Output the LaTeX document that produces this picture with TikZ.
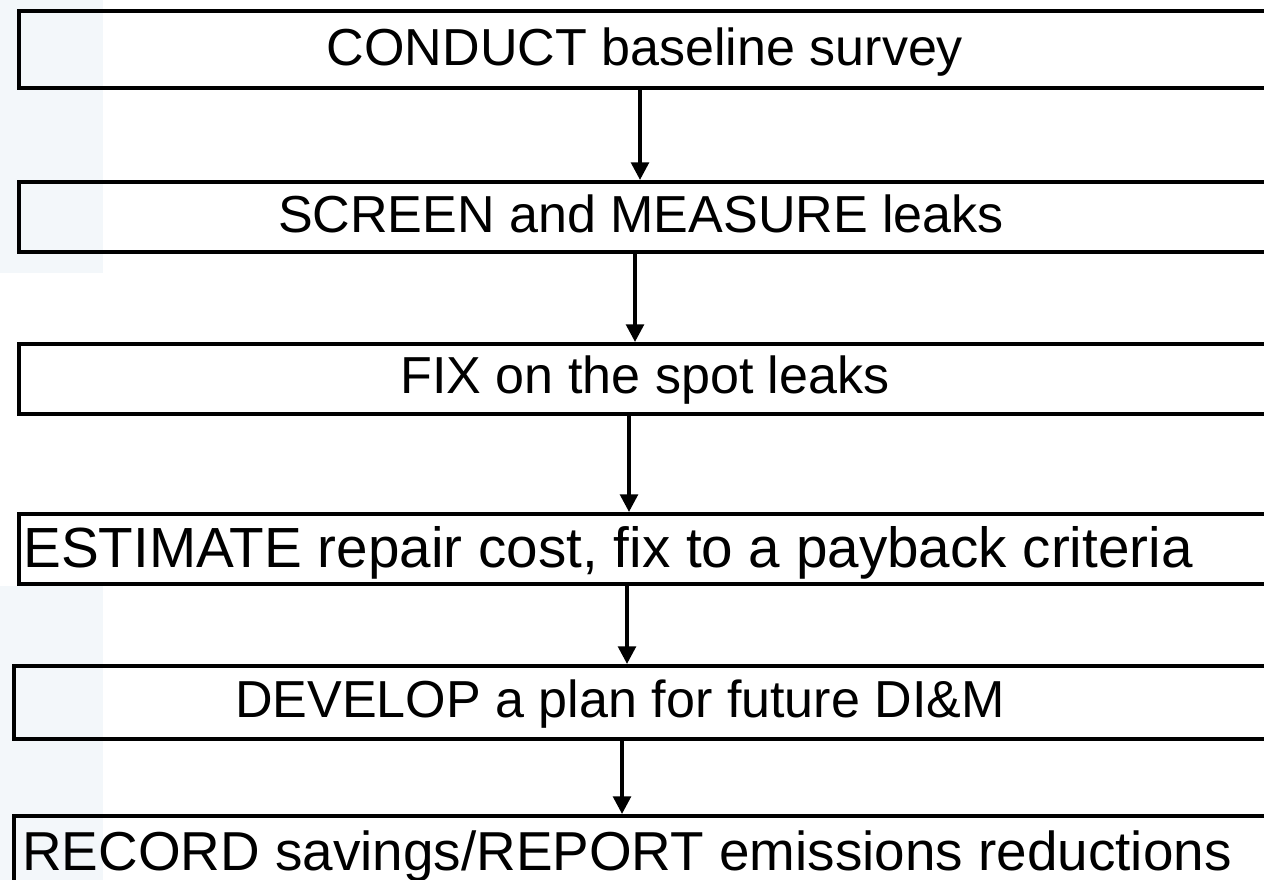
\documentclass[tikz,border=0pt]{standalone}
\usepackage{fontspec}
\setmainfont{Liberation Sans}
\usetikzlibrary{arrows.meta}
\definecolor{panel}{RGB}{243,247,250}

\begin{document}
\begin{tikzpicture}[x=0.01cm,y=-0.01cm,
    stepbox/.style={draw,line width=1.15pt,inner sep=0pt,anchor=north west,minimum width=12.9cm},
    steptext/.style={anchor=base,inner sep=0pt,font=\fontsize{14.8}{18}\selectfont},
    flow/.style={-{Triangle[width=5pt,length=5pt]},line width=1.05pt}]
  \useasboundingbox (0,0) rectangle (1264,880);
  % faint panel on the left
  \fill[panel] (0,0) rectangle (103,273);
  \fill[panel] (0,586) rectangle (103,880);
  \begin{scope}
    \clip (0,0) rectangle (1264,880);
    % the steps
    \node[stepbox,minimum height=0.77cm] (b1) at (17,9) {};
    \node[stepbox,minimum height=0.70cm] (b2) at (17,180) {};
    \node[stepbox,minimum height=0.70cm] (b3) at (17,342) {};
    \node[stepbox,minimum height=0.70cm] (b4) at (17,512) {};
    \node[stepbox,minimum height=0.73cm] (b5) at (12,664) {};
    \node[stepbox,minimum height=1.00cm] (b6) at (12,814) {};
  \end{scope}
  \node[steptext] (t1) at (645,66) {CONDUCT baseline survey};
  \node[steptext] (t2) at (641,233) {SCREEN and MEASURE leaks};
  \node[steptext] (t3) at (645,394) {FIX on the spot leaks};
  \node[steptext,font=\fontsize{16.1}{19}\selectfont] (t4) at (608,568) {ESTIMATE repair cost, fix to a payback criteria};
  \node[steptext] (t5) at (620,718) {DEVELOP a plan for future DI\&M};
  \node[steptext,font=\fontsize{15.6}{19}\selectfont] (t6) at (627,870) {RECORD savings/REPORT emissions reductions};
  % arrows
  \draw[flow] (640,0 |- b1.south) -- (640,0 |- b2.north);
  \draw[flow] (635,0 |- b2.south) -- (635,0 |- b3.north);
  \draw[flow] (629,0 |- b3.south) -- (629,0 |- b4.north);
  \draw[flow] (627,0 |- b4.south) -- (627,0 |- b5.north);
  \draw[flow] (622,0 |- b5.south) -- (622,0 |- b6.north);
\end{tikzpicture}
\end{document}
